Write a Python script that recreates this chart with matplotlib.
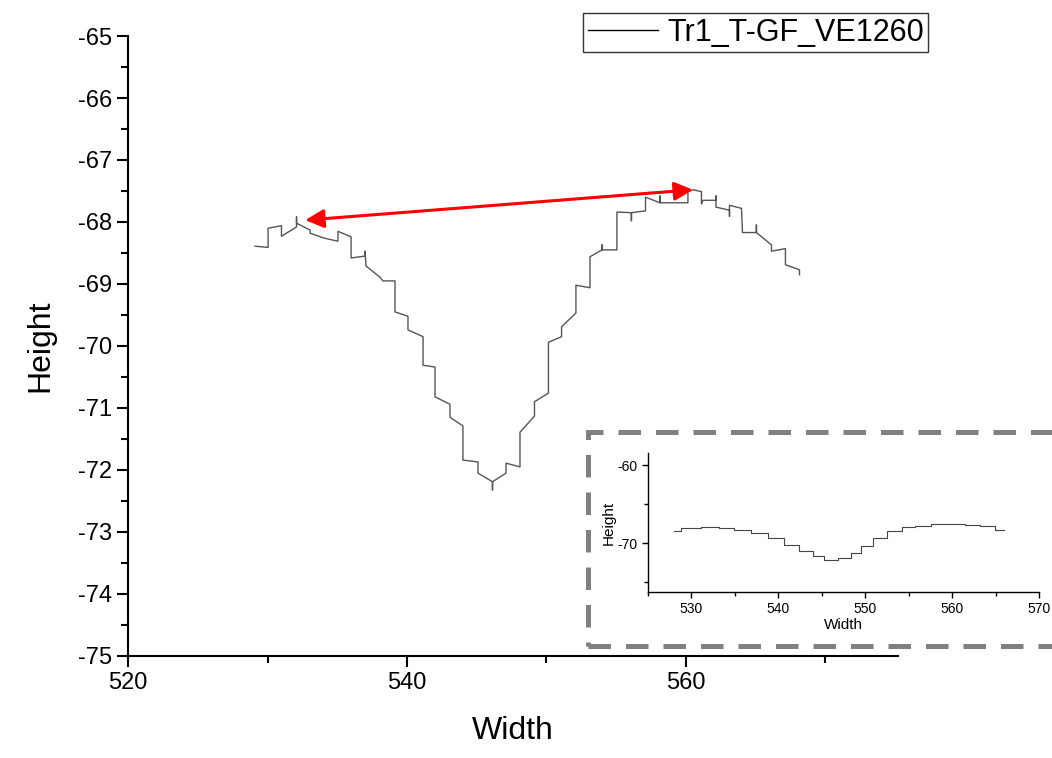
import numpy as np
import matplotlib
matplotlib.use('agg')
from matplotlib import pyplot as plt, rcParams, ticker
from matplotlib.patches import Rectangle

# profile (stepped, with small spikes)
width = [529.10, 530.04, 530.04, 531.00, 531.00, 532.08, 532.08, 532.08, 533.05, 533.05,
         534.05, 535.05, 535.05, 535.99, 535.99, 536.99, 536.99, 537.06, 538.06, 538.28,
         539.14, 539.14, 540.07, 540.07, 541.15, 541.15, 542.01, 542.01, 543.08, 543.08,
         544.01, 544.01, 545.09, 545.09, 546.13, 546.13, 546.13, 547.10, 547.10, 548.10,
         548.10, 549.14, 549.14, 550.14, 550.14, 551.08, 551.08, 552.11, 552.11, 553.12,
         553.12, 553.98, 553.98, 553.98, 555.05, 555.05, 556.09, 556.09, 556.09, 557.10,
         557.10, 558.14, 558.14, 558.14, 560.14, 560.14, 560.50, 561.11, 561.11, 561.22,
         562.15, 562.15, 562.15, 563.12, 563.12, 563.12, 563.98, 564.05, 565.05, 565.05,
         565.05, 566.13, 566.13, 567.13, 567.13, 568.14, 568.14]
height = [-68.39, -68.41, -68.10, -68.06, -68.23, -68.08, -67.92, -68.02, -68.13, -68.18,
          -68.26, -68.31, -68.15, -68.24, -68.58, -68.55, -68.47, -68.71, -68.89, -68.95,
          -68.95, -69.45, -69.52, -69.74, -69.85, -70.31, -70.34, -70.82, -70.94, -71.15,
          -71.29, -71.84, -71.87, -72.05, -72.19, -72.32, -72.19, -72.05, -71.89, -71.95,
          -71.39, -71.13, -70.90, -70.76, -69.94, -69.85, -69.69, -69.47, -69.02, -69.06,
          -68.56, -68.45, -68.37, -68.45, -68.45, -67.84, -67.85, -67.98, -67.85, -67.82,
          -67.60, -67.69, -67.58, -67.69, -67.69, -67.51, -67.48, -67.51, -67.71, -67.65,
          -67.65, -67.58, -67.76, -67.81, -67.91, -67.73, -67.78, -68.17, -68.17, -68.05,
          -68.17, -68.37, -68.47, -68.43, -68.69, -68.77, -68.85]

# inset profile
inset_width = [528.0, 529.7, 532.4, 534.0, 535.9, 537.8, 539.7, 541.6, 543.2, 544.7, 545.9,
               547.8, 548.9, 550.1, 551.6, 553.5, 554.9, 556.6, 558.5, 560.5, 562.4, 563.9, 566.0]
inset_height = [-68.50, -68.07, -67.94, -68.07, -68.28, -68.71, -69.36, -70.21, -71.07, -71.72,
                -72.15, -71.93, -71.29, -70.43, -69.36, -68.50, -67.94, -67.77, -67.51, -67.51,
                -67.68, -67.85, -68.28]

# arrow ends (width, height)
arrow_start = (532.7, -67.97)
arrow_end = (560.5, -67.48)

rcParams['font.family'] = ['Liberation Sans', 'DejaVu Sans']
rcParams['axes.linewidth'] = 1.5
rcParams['axes.unicode_minus'] = False

fig = plt.figure(figsize=(10.52, 7.58), dpi=100)
ax = fig.add_axes([0.1217, 0.1346, 0.7319, 0.8179])

ax.plot(width, height, color='#555555', linewidth=1.0, label='Tr1_T-GF_VE1260')

ax.annotate('', xy=arrow_start, xytext=arrow_end,
            arrowprops=dict(arrowstyle='<|-|>', color='red', lw=2.2, mutation_scale=28,
                            shrinkA=0, shrinkB=0))

ax.set_xlim(520, 575.2)
ax.set_ylim(-75, -65)
ax.xaxis.set_major_locator(ticker.MultipleLocator(20))
ax.xaxis.set_minor_locator(ticker.MultipleLocator(10))
ax.yaxis.set_major_locator(ticker.MultipleLocator(1))
ax.yaxis.set_minor_locator(ticker.MultipleLocator(0.5))
ax.spines['top'].set_visible(False)
ax.spines['right'].set_visible(False)
ax.tick_params(which='major', direction='out', length=8, width=1.5, labelsize=17)
ax.tick_params(which='minor', direction='out', length=5, width=1.5)
ax.set_xlabel('Width', size=23, labelpad=16)
ax.set_ylabel('Height', size=23, labelpad=16)

leg = fig.legend(loc='upper left', bbox_to_anchor=(583 / 1052, 1 - 13 / 758),
                 fontsize=22, frameon=True, fancybox=False, handlelength=2.3,
                 borderpad=0.15, handletextpad=0.3, borderaxespad=0)
leg.get_frame().set_edgecolor('black')
leg.get_frame().set_linewidth(1.0)
leg.get_lines()[0].set_color('black')

# dashed frame around the inset
frame = Rectangle((588 / 1052, 1 - 646 / 758), 0.5, (646 - 432) / 758,
                  transform=fig.transFigure, fill=False, edgecolor='#808080',
                  linewidth=3.6, linestyle=(0, (4.5, 3)), clip_on=False)
fig.patches.append(frame)

ins = fig.add_axes([0.616, 0.219, 0.3717, 0.1834])
ins.plot(inset_width, inset_height, color='#444444', linewidth=0.8, drawstyle='steps-mid')
ins.set_xlim(525, 570)
ins.set_ylim(-76.3, -58.4)
ins.xaxis.set_major_locator(ticker.MultipleLocator(10))
ins.xaxis.set_minor_locator(ticker.MultipleLocator(5))
ins.yaxis.set_major_locator(ticker.MultipleLocator(10))
ins.yaxis.set_minor_locator(ticker.MultipleLocator(5))
ins.spines['top'].set_visible(False)
ins.spines['right'].set_visible(False)
ins.spines['left'].set_linewidth(1.0)
ins.spines['bottom'].set_linewidth(1.0)
ins.tick_params(which='major', direction='out', length=4, width=1.0, labelsize=10)
ins.tick_params(which='minor', direction='out', length=3, width=1.0)
ins.set_xlabel('Width', size=11, labelpad=1)
ins.set_ylabel('Height', size=11, labelpad=1)

fig.savefig('out.png', dpi=100)
